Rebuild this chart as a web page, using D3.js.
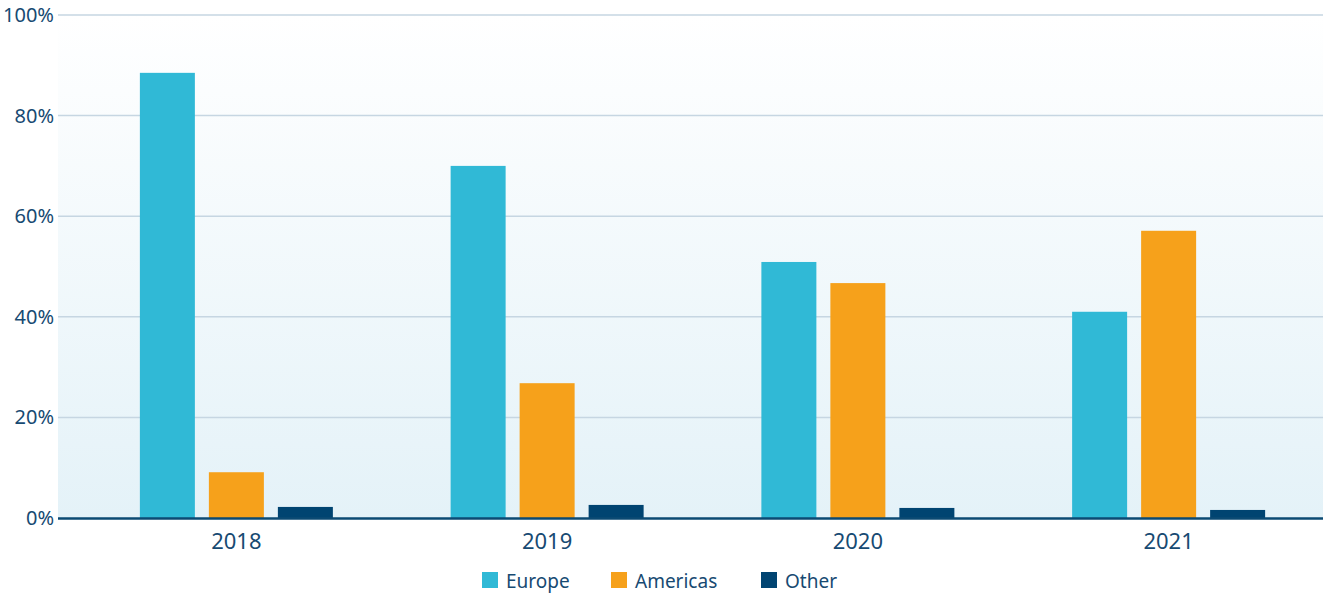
<!DOCTYPE html>
<html><head><meta charset="utf-8">
<script src="https://cdn.jsdelivr.net/npm/d3@7"></script>
<style>body{margin:0;background:#fff}svg{display:block}</style>
</head><body>
<svg id="c" width="1323" height="594"></svg>
<script>
const years = ["2018","2019","2020","2021"];
const seriesNames = ["Europe","Americas","Other"];
const europe = [88.5, 70.0, 50.9, 41.0];
const americas = [9.1, 26.8, 46.7, 57.1];
const other = [2.2, 2.6, 2.0, 1.6];
const yTicks = [0,20,40,60,80,100];
const colors = ["#30b9d6","#f6a11b","#004471"];

const values = [europe, americas, other];
const svg = d3.select("#c");
const plotL=58, plotR=1323, plotTop=15, plotBottom=518;
const font = "'Noto Sans', sans-serif";
const textColor = "#174a72";

const defs = svg.append("defs");
const grad = defs.append("linearGradient").attr("id","bg").attr("x1",0).attr("y1",0).attr("x2",0).attr("y2",1);
grad.append("stop").attr("offset","0%").attr("stop-color","#ffffff");
grad.append("stop").attr("offset","100%").attr("stop-color","#e4f2f8");
svg.append("rect").attr("x",plotL).attr("y",plotTop).attr("width",plotR-plotL).attr("height",plotBottom-plotTop).attr("fill","url(#bg)");

const y = d3.scaleLinear().domain([0,100]).range([plotBottom,plotTop]);
const x0 = d3.scaleBand().domain(years).range([81,1324]);
const x1 = d3.scaleBand().domain(seriesNames).range([0,193]).paddingInner(14/69);

svg.append("g").selectAll("line").data(yTicks.filter(t=>t>0)).join("line")
  .attr("x1",plotL).attr("x2",plotR).attr("y1",d=>y(d)).attr("y2",d=>y(d))
  .attr("stroke","#c6d6e2").attr("stroke-width",1.5);

const yAxis = svg.append("g").attr("transform",`translate(${plotL},0)`)
  .call(d3.axisLeft(y).tickValues(yTicks).tickFormat(d=>d+"%").tickSize(0).tickPadding(4));
yAxis.select(".domain").remove();
yAxis.selectAll("text").attr("font-family",font).attr("font-size",20).attr("fill",textColor);

const groups = svg.append("g").selectAll("g").data(years).join("g")
  .attr("transform",d=>`translate(${x0(d)+(x0.bandwidth()-193)/2},0)`);
groups.selectAll("rect").data((d,i)=>seriesNames.map((s,j)=>({s,v:values[j][i],c:colors[j]}))).join("rect")
  .attr("x",d=>x1(d.s)).attr("width",x1.bandwidth())
  .attr("y",d=>y(d.v)).attr("height",d=>plotBottom-y(d.v))
  .attr("fill",d=>d.c);

svg.append("line").attr("x1",plotL).attr("x2",plotR).attr("y1",plotBottom+0.5).attr("y2",plotBottom+0.5)
  .attr("stroke","#0b4a73").attr("stroke-width",2.5);

const xAxis = svg.append("g").attr("transform",`translate(0,${plotBottom})`)
  .call(d3.axisBottom(x0).tickSize(0).tickPadding(15));
xAxis.select(".domain").remove();
xAxis.selectAll("text").attr("font-family",font).attr("font-size",22).attr("fill",textColor);

const legX = [482, 611, 761];
const leg = svg.append("g").selectAll("g").data(seriesNames).join("g")
  .attr("transform",(d,i)=>`translate(${legX[i]},572)`);
leg.append("rect").attr("width",16).attr("height",16).attr("fill",(d,i)=>colors[i]);
leg.append("text").attr("x",24).attr("y",15.5).text(d=>d)
  .attr("font-family",font).attr("font-size",19).attr("fill",textColor);
</script>
</body></html>
